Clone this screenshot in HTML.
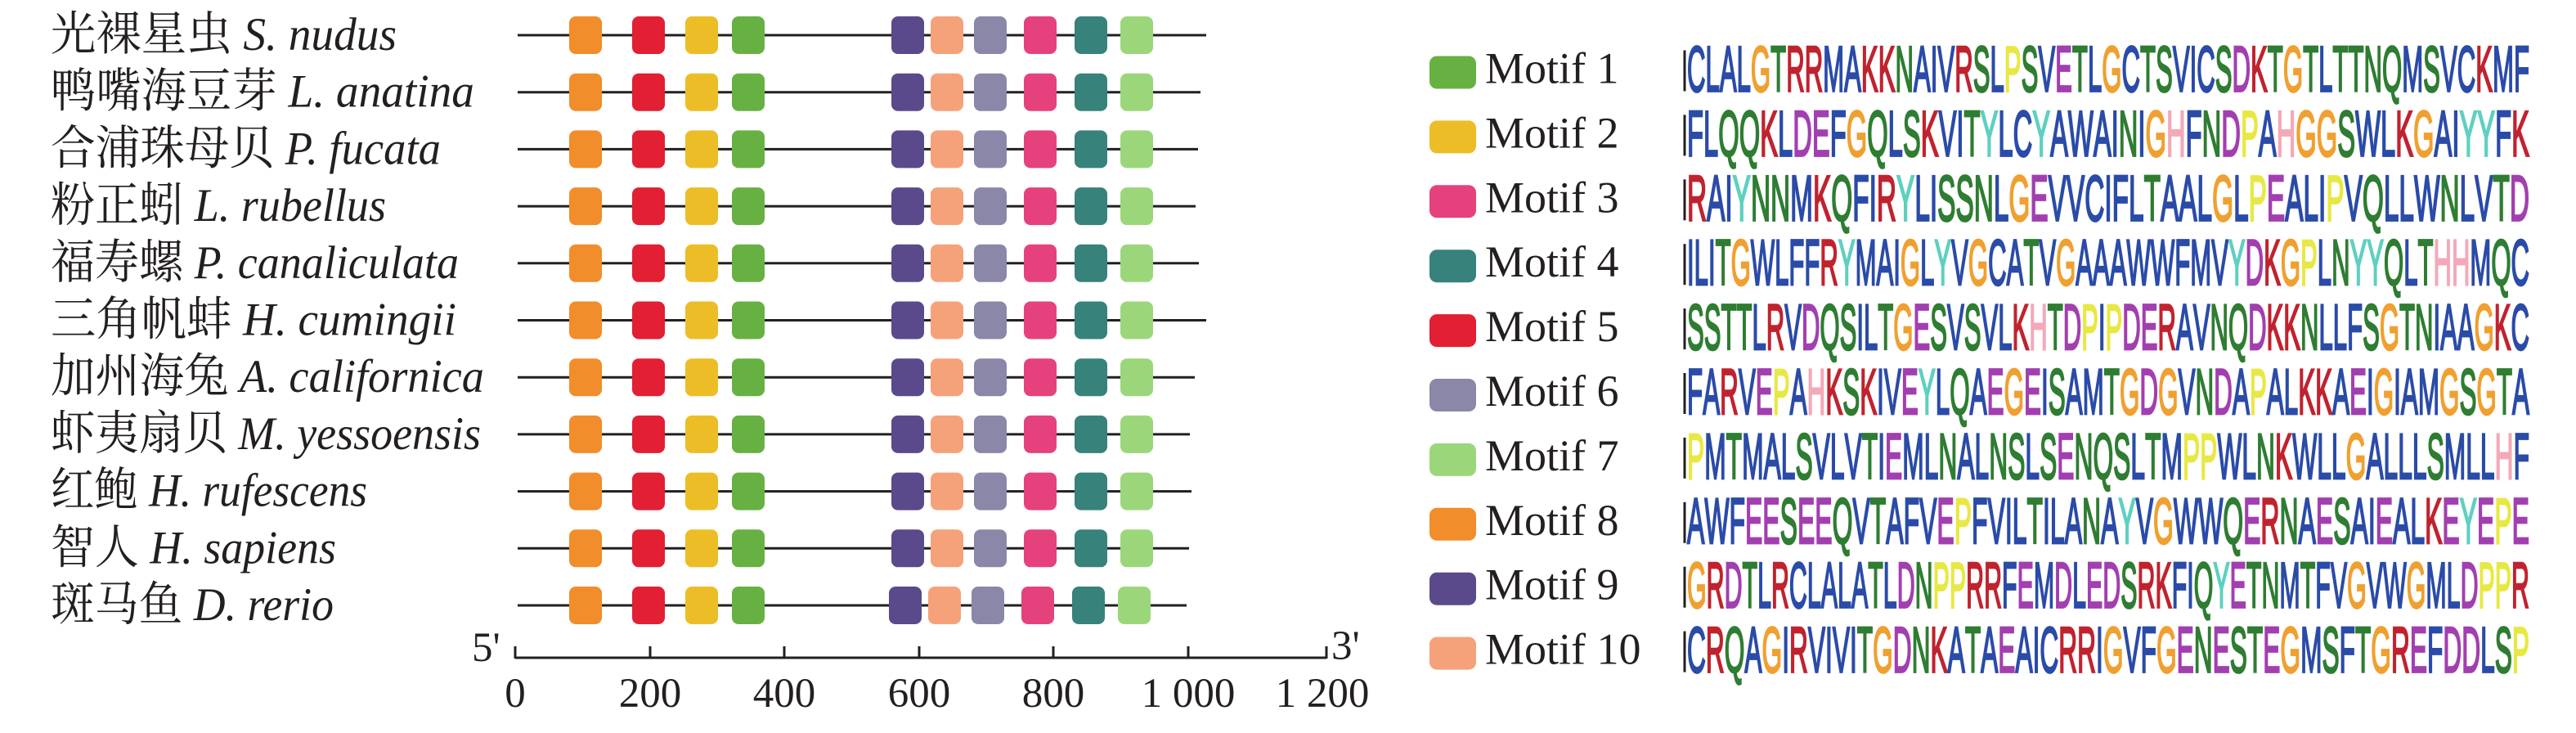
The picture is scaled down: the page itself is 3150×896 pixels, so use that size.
<!DOCTYPE html>
<html><head><meta charset="utf-8"><style>
html,body{margin:0;padding:0;background:#fff;}
svg{display:block;}
.lab{font-family:"Liberation Serif","Noto Serif CJK SC",serif;font-size:52px;fill:#231f20;}
.tk{font-family:"Liberation Serif",serif;font-size:51px;fill:#231f20;}
.mt{font-family:"Liberation Serif",serif;font-size:54px;fill:#231f20;}
.logo{font-family:"Liberation Sans",sans-serif;font-size:72px;}
</style></head><body>
<svg width="3150" height="896" viewBox="0 0 3150 896" xmlns="http://www.w3.org/2000/svg">
<g id="left"></g>
<g id="right"></g>
<g stroke="#231f20" stroke-width="3" fill="none">
<line x1="630" y1="804" x2="1622" y2="804"/>
<line x1="630" y1="790" x2="630" y2="805"/>
<line x1="795" y1="790" x2="795" y2="805"/>
<line x1="959" y1="790" x2="959" y2="805"/>
<line x1="1124" y1="790" x2="1124" y2="805"/>
<line x1="1288" y1="790" x2="1288" y2="805"/>
<line x1="1453" y1="790" x2="1453" y2="805"/>
<line x1="1622" y1="790" x2="1622" y2="805"/>
</g>
<text class="tk" x="577" y="808">5'</text>
<text class="tk" x="1628" y="806">3'</text>
<g class="tk" text-anchor="middle">
<text x="630" y="864">0</text><text x="795" y="864">200</text><text x="959" y="864">400</text>
<text x="1124" y="864">600</text><text x="1288" y="864">800</text><text x="1453" y="864">1 000</text><text x="1617" y="864">1 200</text>
</g>
</svg>
<script>
var NS="http://www.w3.org/2000/svg";
function el(p,t,a,txt){var e=document.createElementNS(NS,t);for(var k in a)e.setAttribute(k,a[k]);if(txt!=null)e.textContent=txt;p.appendChild(e);return e;}
var L=document.getElementById('left'),R=document.getElementById('right');
var labs=[["光裸星虫 ","S. nudus",485],["鸭嘴海豆芽 ","L. anatina",580],["合浦珠母贝 ","P. fucata",539],["粉正蚓 ","L. rubellus",472],["福寿螺 ","P. canaliculata",561],["三角帆蚌 ","H. cumingii",558],["加州海兔 ","A. californica",592],["虾夷扇贝 ","M. yessoensis",588],["红鲍 ","H. rufescens",449],["智人 ","H. sapiens",411],["斑马鱼 ","D. rerio",408]];
var ends=[1475,1468,1465,1462,1466,1475,1461,1455,1457,1454,1451];
var cols=["#F18D2B","#E21F33","#EDBD27","#67B143","#5A4A8C","#F5A27A","#8A87A8","#E5427D","#37827B","#9BD77A"];
var xs=[696,773,838,895,1090,1138,1191,1252,1314,1370];
for(var i=0;i<11;i++){
 var cy=43+i*69.7;
 var g0=el(L,'g',{transform:'translate(62,'+(cy+18)+') scale(1,1.1)'});
 var t=el(g0,'text',{'class':'lab',x:0,y:0,textLength:labs[i][2]-62,lengthAdjust:'spacingAndGlyphs'});
 el(t,'tspan',{},labs[i][0]);el(t,'tspan',{'font-style':'italic'},labs[i][1]);
 el(L,'line',{x1:633,y1:cy,x2:ends[i],y2:cy,stroke:'#231f20','stroke-width':3});
 for(var j=0;j<10;j++){var dx=(i==10&&j>=4)?-3:0;el(L,'rect',{x:xs[j]+dx,y:cy-23,width:40,height:46,rx:8,fill:cols[j]});}
}
var lcol=["#67B143","#EDBD27","#E5427D","#37827B","#E21F33","#8A87A8","#9BD77A","#F18D2B","#5A4A8C","#F5A27A"];
var seqs=["CLALGTRRMAKKNAIVRSLPSVETLGCTSVICSDKTGTLTTNQMSVCKMF","FLQQKLDEFGQLSKVITYLCYAWAINIGHFNDPAHGGSWLKGAIYYFK","RAIYNNMKQFIRYLISSNLGEVVCIFLTAALGLPEALIPVQLLWNLVTD","ILITGWLFFRYMAIGLYVGCATVGAAAWWFMVYDKGPLNYYQLTHHMQC","SSTTLRVDQSILTGESVSVLKHTDPIPDERAVNQDKKNLLFSGTNIAAGKC","FARVEPAHKSKIVEYLQAEGEISAMTGDGVNDAPALKKAEIGIAMGSGTA","PMTMALSVLVTIEMLNALNSLSENQSLTMPPWLNKWLLGALLLSMLLHF","AWFEESEEQVTAFVEPFVILTILANAYVGWWQERNAESAIEALKEYEPE","GRDTLRCLALATLDNPPRRFEMDLEDSRKFIQYETNMTFVGVWGMLDPPR","CRQAGIRVIVITGDNKATAEAICRRIGVFGENESTEGMSFTGREFDDLSP"];
function ac(c){if("ACFILVWM".indexOf(c)>=0)return"#2A4BA8";if("NQST".indexOf(c)>=0)return"#2E7D32";if("DE".indexOf(c)>=0)return"#A23FB0";if("KR".indexOf(c)>=0)return"#C0232E";if(c=="H")return"#F4A9B8";if(c=="G")return"#F0A030";if(c=="P")return"#E8E845";if(c=="Y")return"#5ED0C0";return"#2A4BA8";}
for(var i=0;i<10;i++){
 var cy=88.5+i*78.9;
 el(R,'rect',{x:1748,y:cy-20,width:57,height:40,rx:9,fill:lcol[i]});
 el(R,'text',{'class':'mt',x:1816,y:cy+13},"Motif "+(i+1));
 el(R,'line',{x1:2060,y1:cy-27,x2:2060,y2:cy+23,stroke:'#231f20','stroke-width':3});
 var g=el(R,'g',{transform:'translate(2063,'+(cy+23)+') scale(1,1.1)'});
 var t=el(g,'text',{'class':'logo',x:0,y:0,textLength:1030,lengthAdjust:'spacingAndGlyphs'});
 var s=seqs[i];
 for(var k=0;k<s.length;k++)el(t,'tspan',{fill:ac(s[k]),stroke:ac(s[k]),'stroke-width':2.5},s[k]);
}
</script>
</body></html>
